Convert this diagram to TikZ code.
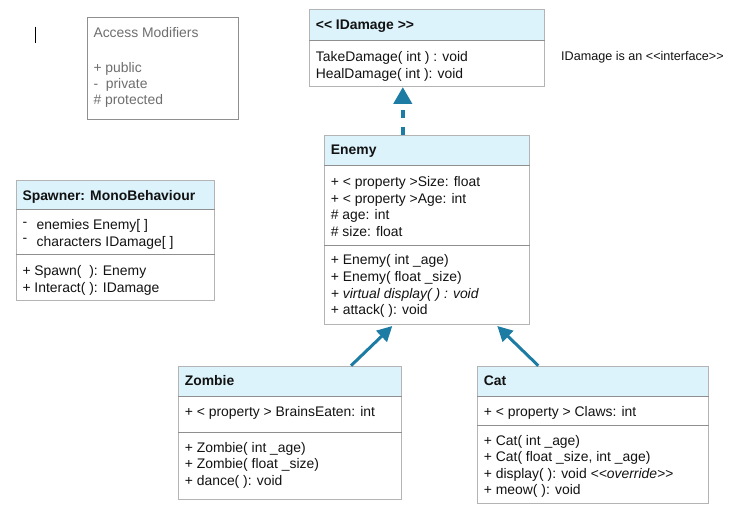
\documentclass[tikz,border=0pt]{standalone}
\usepackage{fontspec}
\setmainfont{Liberation Sans}
\usetikzlibrary{arrows.meta}
\definecolor{bordergray}{HTML}{B4B4B4}
\definecolor{divgray}{HTML}{8F8F8F}
\definecolor{hdrblue}{HTML}{DCF3FC}
\definecolor{arrowblue}{HTML}{1D7CA3}
\definecolor{notegray}{HTML}{6E6E6E}
\tikzset{
  box/.style={draw=bordergray, line width=1pt, inner sep=0pt, anchor=north west},
  hdr/.style={fill=hdrblue, inner sep=0pt, anchor=north west},
  sepline/.style={draw=divgray, line width=1pt},
  txt/.style={font=\fontsize{13.9}{16.6}\selectfont, inner sep=0pt, anchor=base west, text=black!93},
  inh/.style={draw=arrowblue, line width=3pt, -{Triangle[length=15pt,width=15pt]}},
  impl/.style={draw=arrowblue, line width=4.3pt, dash pattern=on 8pt off 8.3pt, -{Triangle[length=17pt,width=18pt]}},
}
\newcommand\textlines[5]{%
  \foreach \t [count=\i] in {#5} {
    \node[txt, #4] (#3-\i) at ({#1},{#2+16.6*(\i-1)}) {\t};
  }%
}
\begin{document}
\begin{tikzpicture}[x=1pt, y=-1pt]
\useasboundingbox (0,0) rectangle (750,521);

% text cursor
\draw[black, line width=0.8pt] (35.7,26.7) -- (35.7,42.7);

% Access modifiers note
\node[draw=divgray, line width=1pt, inner sep=0pt, anchor=north west, minimum width=151.6pt, minimum height=101.7pt] (access) at (86.7,17.3) {};
\node[txt, text=notegray] (access-t) at (93.3,37.7) {Access Modifiers};
\foreach \t [count=\i] in {+ public, -\ \ private, \# protected} {
  \node[txt, text=notegray] (access-\i) at (93.3,{72.7+16*(\i-1)}) {\t};
}

% IDamage
\node[hdr, minimum width=235pt, minimum height=31.4pt] (idamage-h) at (309.3,9.3) {};
\node[box, minimum width=235pt, minimum height=76.7pt] (idamage) at (309.3,9.3) {};
\draw[sepline] ([yshift=-31.4pt]idamage.north west) -- ([yshift=-31.4pt]idamage.north east);
\node[txt, font=\fontsize{13.9}{16.6}\selectfont\bfseries] (idamage-n) at (315.7,30) {<{}< IDamage >{}>};
\textlines{315.7}{61.5}{idamage-m}{}{TakeDamage( int ) : void, HealDamage( int ): void}
\node[txt, font=\fontsize{12.6}{15}\selectfont] (note) at (561,60.5) {IDamage is an <{}<interface>{}>};

% Spawner
\node[hdr, minimum width=198.3pt, minimum height=30pt] (spawner-h) at (15.7,180) {};
\node[box, minimum width=198.3pt, minimum height=120pt] (spawner) at (15.7,180) {};
\draw[sepline] ([yshift=-30pt]spawner.north west) -- ([yshift=-30pt]spawner.north east);
\draw[sepline] ([yshift=-75pt]spawner.north west) -- ([yshift=-75pt]spawner.north east);
\node[txt, font=\fontsize{13.9}{16.6}\selectfont\bfseries] (spawner-n) at (22.3,201) {Spawner: MonoBehaviour};
\textlines{22.3}{230}{spawner-a}{}{{\raisebox{3.7pt}{-}\hspace{9.6pt}enemies Enemy[ ]}, {\raisebox{3.7pt}{-}\hspace{9.6pt}characters IDamage[ ]}}
\textlines{22.3}{275.7}{spawner-m}{}{+ Spawn(\ \ ): Enemy, + Interact( ): IDamage}

% Enemy
\node[hdr, minimum width=205pt, minimum height=31.3pt] (enemy-h) at (324.3,134.7) {};
\node[box, minimum width=205pt, minimum height=189.3pt] (enemy) at (324.3,134.7) {};
\draw[sepline] ([yshift=-31.3pt]enemy.north west) -- ([yshift=-31.3pt]enemy.north east);
\draw[sepline] ([yshift=-111pt]enemy.north west) -- ([yshift=-111pt]enemy.north east);
\node[txt, font=\fontsize{13.9}{16.6}\selectfont\bfseries] (enemy-n) at (330.7,155) {Enemy};
\textlines{330.7}{186.7}{enemy-a}{}{+ < property >Size: float, + < property >Age: int, \# age: int, \# size: float}
\textlines{330.7}{265}{enemy-m}{}{+ Enemy( int \_age), + Enemy( float \_size), \textit{+ virtual display( ) : void}, + attack( ): void}

% Zombie
\node[hdr, minimum width=222.7pt, minimum height=31pt] (zombie-h) at (178.3,365.7) {};
\node[box, minimum width=222.7pt, minimum height=133.3pt] (zombie) at (178.3,365.7) {};
\draw[sepline] ([yshift=-31pt]zombie.north west) -- ([yshift=-31pt]zombie.north east);
\draw[sepline] ([yshift=-66.6pt]zombie.north west) -- ([yshift=-66.6pt]zombie.north east);
\node[txt, font=\fontsize{13.9}{16.6}\selectfont\bfseries] (zombie-n) at (184.7,385.7) {Zombie};
\textlines{184.7}{416.7}{zombie-a}{}{+ < property > BrainsEaten: int}
\textlines{184.7}{452.3}{zombie-m}{}{+ Zombie( int \_age), + Zombie( float \_size), + dance( ): void}

% Cat
\node[hdr, minimum width=231pt, minimum height=31pt] (cat-h) at (477.3,365.7) {};
\node[box, minimum width=231pt, minimum height=137pt] (cat) at (477.3,365.7) {};
\draw[sepline] ([yshift=-31pt]cat.north west) -- ([yshift=-31pt]cat.north east);
\draw[sepline] ([yshift=-59.6pt]cat.north west) -- ([yshift=-59.6pt]cat.north east);
\node[txt, font=\fontsize{13.9}{16.6}\selectfont\bfseries] (cat-n) at (483.7,385.7) {Cat};
\textlines{483.7}{416.7}{cat-a}{}{+ < property > Claws: int}
\textlines{483.7}{445}{cat-m}{}{+ Cat( int \_age), {+ Cat( float \_size, int \_age)}, + display( ): void \textit{<{}<override>{}>}, + meow( ): void}

% Connectors
\draw[impl] ([xshift=78.5pt]enemy.north west) -- ([xshift=93.5pt]idamage.south west);
\draw[inh] ([xshift=172.7pt]zombie.north west) -- ([xshift=68pt,yshift=-1pt]enemy.south west);
\draw[inh] ([xshift=61pt]cat.north west) -- ([xshift=173pt,yshift=-1pt]enemy.south west);
\end{tikzpicture}
\end{document}
